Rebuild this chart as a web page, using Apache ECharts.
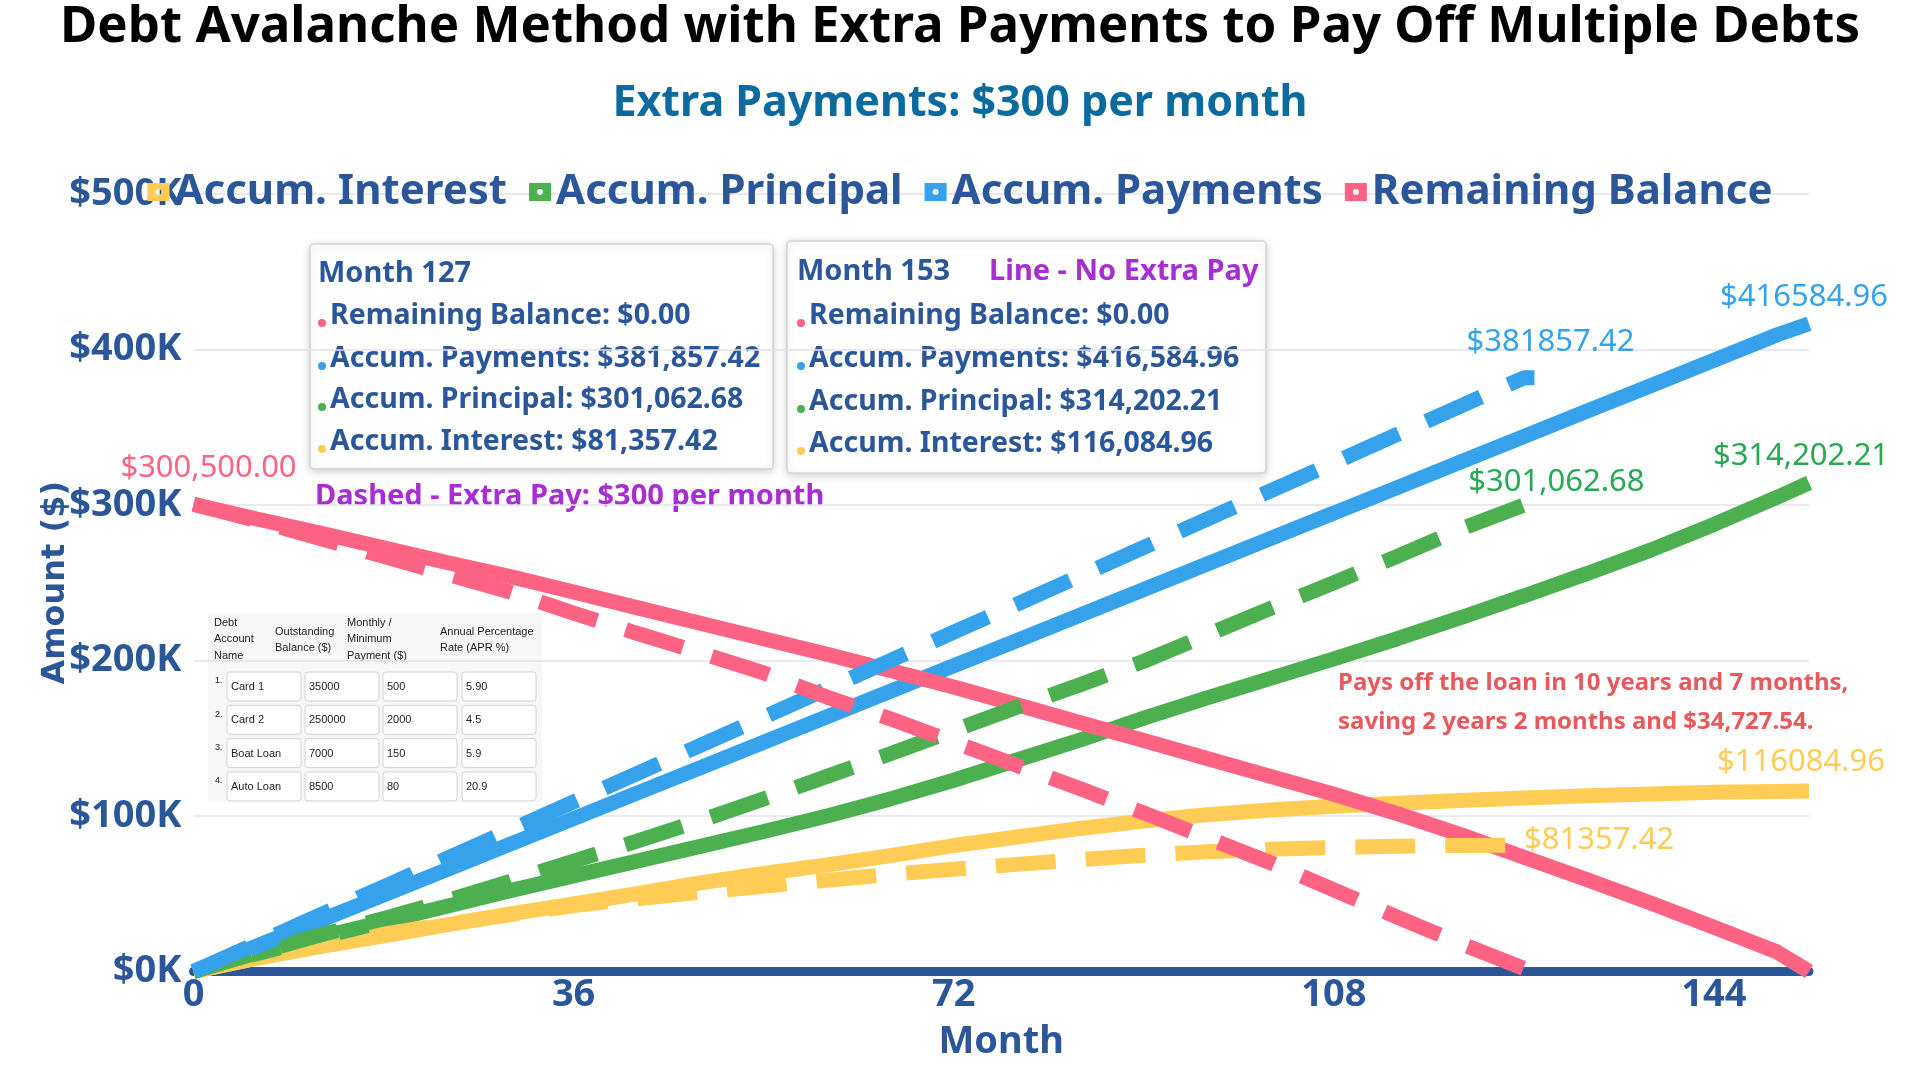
<!DOCTYPE html>
<html>
<head>
<meta charset="utf-8">
<title>Debt Avalanche Method with Extra Payments</title>
<script src="https://cdn.jsdelivr.net/npm/echarts@6/dist/echarts.min.js"></script>
<style>
  html, body { margin: 0; padding: 0; background: #fff; }
  #chart { width: 1920px; height: 1080px; }
</style>
</head>
<body>
<div id="chart"></div>
<script>
// months for the two schedules
const months = [0, 6, 12, 18, 24, 30, 36, 42, 48, 54, 60, 66, 72, 78, 84, 90, 96, 102, 108, 114, 120, 126, 132, 138, 144, 150, 153];
const monthsExtra = [0, 6, 12, 18, 24, 30, 36, 42, 48, 54, 60, 66, 72, 78, 84, 90, 96, 102, 108, 114, 120, 126, 127];

// no extra payment (solid lines)
const balanceNoExtra = [300500, 291000, 282000, 272500, 263000, 254000, 244000, 234000, 224000, 214000, 204000, 193500, 183000, 171500, 160000, 148500, 137000, 125500, 114000, 101500, 88000, 73500, 59000, 44000, 28500, 12500, 0];
const paymentsNoExtra = [0, 16400, 32800, 49100, 65500, 81900, 98300, 114700, 131000, 147400, 163800, 180200, 196600, 212900, 229300, 245700, 262100, 278500, 294800, 311200, 327600, 344000, 360400, 376700, 393100, 409500, 416584.96];
const principalNoExtra = [0, 11500, 22000, 32000, 42000, 52000, 61500, 71000, 80500, 90000, 100000, 111000, 123000, 136000, 149000, 163000, 176000, 188500, 201000, 214000, 227500, 241500, 256000, 271000, 287500, 305000, 314202.21];
const interestNoExtra = [0, 8500, 16000, 23000, 30000, 37000, 43500, 50000, 57000, 63000, 68500, 74500, 81000, 86500, 92000, 96800, 100800, 103800, 106200, 108200, 110000, 111600, 113000, 114200, 115200, 115800, 116084.96];

// $300 extra per month (dashed lines)
const balanceExtra = [300500, 290000, 278500, 267000, 255500, 244000, 230500, 217500, 205000, 192000, 176500, 162500, 147500, 132500, 117500, 102000, 86000, 70000, 52500, 35000, 18000, 2000, 0];
const paymentsExtra = [0, 18200, 36400, 54500, 72700, 90900, 109100, 127300, 145400, 163600, 181800, 200000, 218200, 236300, 254500, 272700, 290900, 309100, 327200, 345400, 363600, 381780, 381857.42];
const principalExtra = [0, 12000, 23500, 34000, 45500, 58000, 71000, 83800, 97000, 111000, 125500, 140000, 155000, 170000, 184500, 199500, 216500, 233500, 250000, 267000, 284500, 300000, 301062.68];
const interestExtra = [0, 8500, 17000, 24000, 30500, 36500, 42400, 46800, 51000, 54800, 58600, 62500, 65800, 68900, 72000, 74700, 77000, 78600, 79800, 80600, 81100, 81340, 81357.42];

const seriesNames = ['Accum. Interest', 'Accum. Principal', 'Accum. Payments', 'Remaining Balance'];
const lineColors = ['#ffcd56', '#4caf50', '#36a2eb', '#ff6384'];
const labelColors = ['#ffcd56', '#27a853', '#36a2eb', '#ff6384'];

const xTicks = [0, 36, 72, 108, 144];

// debt table shown on the chart
const tableHeaders = [['Debt', 'Account', 'Name'], ['Outstanding', 'Balance ($)'], ['Monthly /', 'Minimum', 'Payment ($)'], ['Annual Percentage', 'Rate (APR %)']];
const tableRows = [
  ['Card 1', '35000', '500', '5.90'],
  ['Card 2', '250000', '2000', '4.5'],
  ['Boat Loan', '7000', '150', '5.9'],
  ['Auto Loan', '8500', '80', '20.9']
];

const FONT = '"Noto Sans", sans-serif';
const NAVY = '#2b579a';

function money(v, comma) {
  if (comma) {
    return '$' + v.toLocaleString('en-US', { minimumFractionDigits: 2, maximumFractionDigits: 2 });
  }
  return '$' + v.toFixed(2);
}

function last(arr) { return arr[arr.length - 1]; }

function endLabel(x, y, text, color, position, offset) {
  return {
    coord: [x, y],
    label: {
      show: true, position: position, distance: 5, offset: offset,
      formatter: text, color: color, fontSize: 31, fontFamily: FONT
    }
  };
}

function makeLine(idx, xs, ys, dashed, marks) {
  return {
    name: seriesNames[idx],
    type: 'line',
    showSymbol: false,
    symbol: 'emptyCircle',
    color: lineColors[idx],
    lineStyle: { width: 15, color: lineColors[idx], type: dashed ? [60, 30] : 'solid', cap: 'butt' },
    data: xs.map((m, i) => [m, ys[i]]),
    markPoint: marks.length ? {
      symbol: 'circle', symbolSize: 1, silent: true,
      itemStyle: { color: 'rgba(0,0,0,0)' },
      data: marks
    } : undefined
  };
}

const mEnd = last(months);
const mEndX = last(monthsExtra);

const series = [
  makeLine(0, months, interestNoExtra, false,
    [endLabel(mEnd, last(interestNoExtra), money(last(interestNoExtra), false), labelColors[0], 'top', [-8, -8])]),
  makeLine(1, months, principalNoExtra, false,
    [endLabel(mEnd, last(principalNoExtra), money(last(principalNoExtra), true), labelColors[1], 'top', [-8, -6])]),
  makeLine(2, months, paymentsNoExtra, false,
    [endLabel(mEnd, last(paymentsNoExtra), money(last(paymentsNoExtra), false), labelColors[2], 'top', [-5, -6])]),
  makeLine(3, months, balanceNoExtra, false,
    [endLabel(0, balanceNoExtra[0], money(balanceNoExtra[0], true), labelColors[3], 'top', [15, -15])]),
  makeLine(0, monthsExtra, interestExtra, true,
    [endLabel(mEndX, last(interestExtra), money(last(interestExtra), false), labelColors[0], 'right', [-16, -5])]),
  makeLine(1, monthsExtra, principalExtra, true,
    [endLabel(mEndX, last(principalExtra), money(last(principalExtra), true), labelColors[1], 'top', [22, 0])]),
  makeLine(2, monthsExtra, paymentsExtra, true,
    [endLabel(mEndX, last(paymentsExtra), money(last(paymentsExtra), false), labelColors[2], 'top', [16, -15])]),
  makeLine(3, monthsExtra, balanceExtra, true, [])
];

// tooltip-like boxes drawn as graphics
function infoBox(x, y, w, h, heading, headX, rowX, rowYs, values) {
  const els = [{
    type: 'rect', shape: { x: x, y: y, width: w, height: h, r: 4 },
    style: { fill: '#fff', stroke: '#d4d4d4', lineWidth: 1.5, shadowBlur: 8, shadowColor: 'rgba(0,0,0,0.18)', shadowOffsetY: 2 }
  }, {
    type: 'text', x: headX, y: rowYs[0],
    style: { text: heading, fill: NAVY, font: 'bold 29px ' + FONT, verticalAlign: 'middle' }
  }];
  const order = [3, 2, 1, 0];
  order.forEach((s, i) => {
    els.push({ type: 'circle', shape: { cx: rowX - 8, cy: rowYs[i + 1] + 7, r: 4 }, style: { fill: lineColors[s] } });
    els.push({
      type: 'text', x: rowX, y: rowYs[i + 1],
      style: { text: seriesNames[s] + ': ' + money(values[s], true), fill: NAVY, font: 'bold 28.5px ' + FONT, verticalAlign: 'middle' }
    });
  });
  return els;
}

const box1 = infoBox(310, 244, 463, 225, 'Month ' + mEndX, 318, 330, [274, 316, 359, 400, 442],
  [last(interestExtra), last(principalExtra), last(paymentsExtra), last(balanceExtra)]);
const box2 = infoBox(787, 241, 479, 232, 'Month ' + mEnd, 797, 809, [272, 316, 359, 402, 444],
  [last(interestNoExtra), last(principalNoExtra), last(paymentsNoExtra), last(balanceNoExtra)]);

// debt table
function debtTable(x0, y0) {
  const els = [{ type: 'rect', shape: { x: x0, y: y0, width: 334, height: 189 }, style: { fill: '#f7f7f7' } }];
  const headX = [6, 67, 139, 232];
  const headY = [[10, 26, 43], [19, 35], [10, 26, 43], [19, 35]];
  tableHeaders.forEach((lines, c) => {
    lines.forEach((t, k) => {
      els.push({ type: 'text', x: x0 + headX[c], y: y0 + headY[c][k], style: { text: t, fill: '#222', font: '11px "Liberation Sans", Arial, sans-serif', verticalAlign: 'middle' } });
    });
  });
  const colX = [19, 97, 175, 254];
  const colW = 74;
  tableRows.forEach((row, r) => {
    const top = y0 + 59 + r * 33.3;
    els.push({ type: 'text', x: x0 + 7, y: top + 9, style: { text: (r + 1) + '.', fill: '#222', font: '9px "Liberation Sans", Arial, sans-serif', verticalAlign: 'middle' } });
    row.forEach((t, c) => {
      els.push({ type: 'rect', shape: { x: x0 + colX[c], y: top, width: colW, height: 29, r: 3 }, style: { fill: '#fff', stroke: '#d2d2d2', lineWidth: 1 } });
      els.push({ type: 'text', x: x0 + colX[c] + 4, y: top + 15, style: { text: t, fill: '#222', font: '11px "Liberation Sans", Arial, sans-serif', verticalAlign: 'middle' } });
    });
  });
  return els;
}

const notes = [
  { type: 'text', x: 989, y: 272, style: { text: 'Line - No Extra Pay', fill: '#aa2cd4', font: 'bold 29px ' + FONT, verticalAlign: 'middle' } },
  { type: 'text', x: 315, y: 497, style: { text: 'Dashed - Extra Pay: $300 per month', fill: '#aa2cd4', font: 'bold 29px ' + FONT, verticalAlign: 'middle' } },
  { type: 'text', x: 1338, y: 683, style: { text: 'Pays off the loan in 10 years and 7 months,', fill: '#e9585a', font: 'bold 24px ' + FONT, verticalAlign: 'middle' } },
  { type: 'text', x: 1338, y: 722, style: { text: 'saving 2 years 2 months and $34,727.54.', fill: '#e9585a', font: 'bold 24px ' + FONT, verticalAlign: 'middle' } }
];

const chart = echarts.init(document.getElementById('chart'));
chart.setOption({
  animation: false,
  backgroundColor: '#fff',
  title: [{
    text: 'Debt Avalanche Method with Extra Payments to Pay Off Multiple Debts',
    left: 'center', top: 2, padding: 0,
    textStyle: { fontSize: 51, fontWeight: 'bold', color: '#000', fontFamily: FONT }
  }, {
    text: 'Extra Payments: $300 per month',
    left: 'center', top: 82, padding: 0,
    textStyle: { fontSize: 43, fontWeight: 'bold', color: '#0b6b9e', fontFamily: FONT }
  }],
  legend: {
    data: seriesNames,
    top: 166, left: 'center',
    itemWidth: 22, itemHeight: 18, itemGap: 22,
    icon: 'path://M0,0H22V18H0Z M11,6A3,3,0,1,0,11,12A3,3,0,1,0,11,6Z',
    textStyle: { fontSize: 42, fontWeight: 'bold', color: NAVY, fontFamily: FONT }
  },
  grid: { left: 193.5, right: 111, top: 194, bottom: 108.5, outerBoundsMode: 'none' },
  xAxis: {
    type: 'value', min: 0, max: mEnd, interval: 36,
    name: 'Month', nameLocation: 'middle', nameGap: 52,
    nameTextStyle: { fontSize: 38, fontWeight: 'bold', color: NAVY, fontFamily: FONT },
    axisLine: { show: true, lineStyle: { color: NAVY, width: 9, cap: 'round' } },
    axisTick: { show: false },
    splitLine: { show: false },
    axisLabel: {
      showMaxLabel: false, margin: 5,
      fontSize: 38, fontWeight: 'bold', color: NAVY, fontFamily: FONT,
      formatter: v => (xTicks.indexOf(v) >= 0 ? String(v) : '')
    }
  },
  yAxis: {
    type: 'value', min: 0, max: 500000, interval: 100000,
    name: 'Amount ($)', nameLocation: 'middle', nameGap: 122, nameMoveOverlap: false,
    nameTextStyle: { fontSize: 32, fontWeight: 'bold', color: NAVY, fontFamily: '"DejaVu Sans", sans-serif' },
    axisLine: { show: false },
    axisTick: { show: false },
    splitLine: { lineStyle: { color: '#e0e3ea', width: 1.5 } },
    axisLabel: {
      margin: 12, fontSize: 38, fontWeight: 'bold', color: NAVY, fontFamily: FONT,
      formatter: v => '$' + (v / 1000) + 'K'
    }
  },
  graphic: { elements: [].concat(debtTable(208, 613), box1, box2, notes) },
  series: series
});
</script>
</body>
</html>
